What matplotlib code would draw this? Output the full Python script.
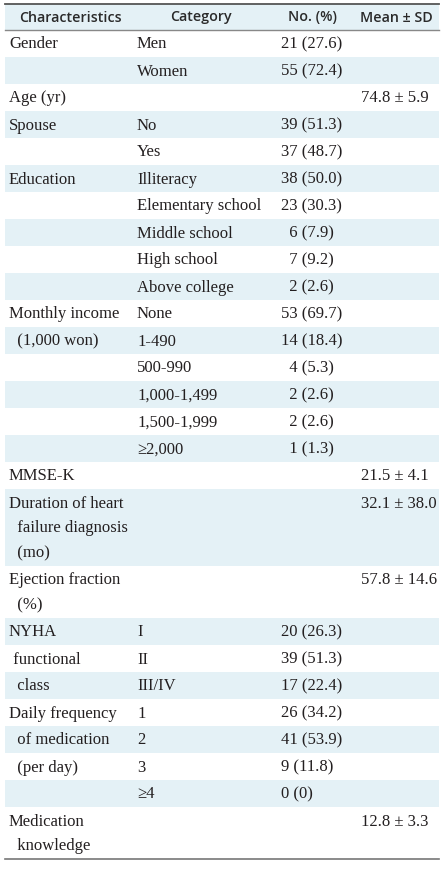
import matplotlib
matplotlib.use("Agg")
import matplotlib.pyplot as plt

# table content
headers = ["Characteristics", "Category", "No. (%)", "Mean \u00b1 SD"]

characteristics = [
    "Gender", "", "Age (yr)", "Spouse", "", "Education", "", "", "", "",
    "Monthly income", "  (1,000 won)", "", "", "", "",
    "MMSE-K", "Duration of heart\n  failure diagnosis\n  (mo)", "Ejection fraction\n  (%)",
    "NYHA", " functional", "  class",
    "Daily frequency", "  of medication", "  (per day)", "",
    "Medication\n  knowledge",
]
categories = [
    "Men", "Women", "", "No", "Yes", "Illiteracy", "Elementary school",
    "Middle school", "High school", "Above college",
    "None", "1-490", "500-990", "1,000-1,499", "1,500-1,999", "\u22652,000",
    "", "", "", "I", "II", "III/IV", "1", "2", "3", "\u22654", "",
]
counts = [
    "21 (27.6)", "55 (72.4)", "", "39 (51.3)", "37 (48.7)", "38 (50.0)", "23 (30.3)",
    "  6 (7.9)", "  7 (9.2)", "  2 (2.6)",
    "53 (69.7)", "14 (18.4)", "  4 (5.3)", "  2 (2.6)", "  2 (2.6)", "  1 (1.3)",
    "", "", "", "20 (26.3)", "39 (51.3)", "17 (22.4)",
    "26 (34.2)", "41 (53.9)", "9 (11.8)", "0 (0)", "",
]
means = [
    "", "", "74.8 \u00b1 5.9", "", "", "", "", "", "", "",
    "", "", "", "", "", "",
    "21.5 \u00b1 4.1", "32.1 \u00b1 38.0", "57.8 \u00b1 14.6",
    "", "", "", "", "", "", "", "12.8 \u00b1 3.3",
]

W, H = 446, 869
shade = "#e4f1f6"
body_font = "Liberation Serif"
ink = "#231f20"
left, right = 5, 439

fig = plt.figure(figsize=(W / 100, H / 100), dpi=100)
ax = fig.add_axes([0, 0, 1, 1])
ax.set_xlim(0, W)
ax.set_ylim(H, 0)
ax.axis("off")

# header band and titles
ax.fill_between([left, right], 4, 30, color=shade, lw=0)
hx = [70, 201, 312, 396]
for x, h in zip(hx, headers):
    ax.text(x, 17.5, h, ha="center", va="center", fontsize=10.3,
            family="Open Sans", weight="semibold", color="#2a2a2a")

row_h = 27
line_h = 25
y = 30
for i in range(len(characteristics)):
    lines = characteristics[i].split("\n")
    h = row_h + line_h * (len(lines) - 1)
    if i % 2 == 1:
        ax.fill_between([left, right], y, y + h, color=shade, lw=0)
    ty = y + 14.5
    for k, ln in enumerate(lines):
        ax.text(9, ty + k * line_h, ln, ha="left", va="center",
                fontsize=12, family=body_font, color=ink)
    ax.text(137, ty, categories[i], ha="left", va="center",
            fontsize=12, family=body_font, color=ink)
    ax.text(281, ty, counts[i], ha="left", va="center",
            fontsize=12, family=body_font, color=ink)
    ax.text(361, ty, means[i], ha="left", va="center",
            fontsize=12, family=body_font, color=ink)
    y += h

ax.plot([left, right], [4, 4], color="#555555", lw=1.3)
ax.plot([left, right], [30, 30], color="#888888", lw=1.0)
ax.plot([left, right], [y, y], color="#777777", lw=1.2)

fig.savefig("out.png", dpi=100)
